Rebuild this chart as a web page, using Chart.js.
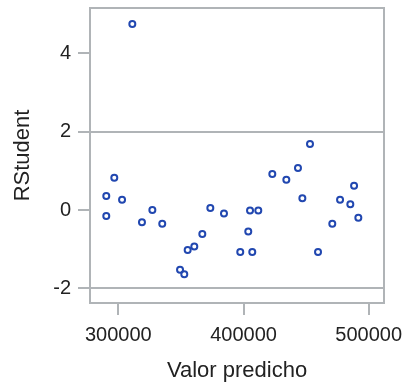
<html lang="en">
<head>
    <meta charset="UTF-8">
    <title>RStudent</title>
    <style>
        body { margin: 0; background: #fff; }
    </style>
</head>
<body>
    <canvas id="residChart" width="405" height="385"></canvas>

    <script src="https://cdn.jsdelivr.net/npm/chart.js@4.4.1/dist/chart.umd.min.js"></script>
    <script>
        // predicted value vs studentized residual
        const predicho = [311200, 453100, 296800, 290400, 303000, 290400, 327200, 318900, 335100,
            373500, 384400, 367100, 360700, 355400, 349300, 352700, 405200, 411800, 403800,
            397400, 407000, 423000, 434200, 443500, 447000, 459500, 470900, 477100, 485300,
            488300, 491700]
        const rstudent = [4.74, 1.68, 0.82, 0.36, 0.26, -0.15, 0.0, -0.31, -0.35,
            0.05, -0.09, -0.61, -0.93, -1.02, -1.52, -1.64, -0.01, -0.01, -0.55,
            -1.07, -1.07, 0.92, 0.77, 1.07, 0.30, -1.07, -0.35, 0.26, 0.15,
            0.62, -0.20]
        const xTicks = [300000, 400000, 500000]
        const yTicks = [-2, 0, 2, 4]
        const refLines = [-2, 2]

        const gray = '#b0b4b7'
        const textColor = '#222'

        // box round the plot area
        const frame = {
            id: 'frame',
            beforeDatasetsDraw(chart) {
                const { ctx, chartArea: a } = chart
                ctx.save()
                ctx.strokeStyle = gray
                ctx.lineWidth = 2
                ctx.strokeRect(a.left, a.top, a.right - a.left, a.bottom - a.top)
                ctx.restore()
            }
        }

        const points = predicho.map((x, i) => ({ x: x, y: rstudent[i] }))

        const ctx = document.getElementById('residChart').getContext('2d')
        const myChart = new Chart(ctx, {
            type: 'scatter',
            data: {
                datasets: [{
                    data: points,
                    pointRadius: 3,
                    pointBorderWidth: 2,
                    pointBorderColor: '#2147b0',
                    pointBackgroundColor: 'rgba(0,0,0,0)'
                }]
            },
            options: {
                responsive: false,
                animation: false,
                layout: { padding: { top: 8, right: 21, left: 0, bottom: 0 } },
                plugins: { legend: { display: false }, tooltip: { enabled: false } },
                scales: {
                    x: {
                        type: 'linear',
                        min: 277400,
                        max: 512200,
                        afterBuildTicks: s => { s.ticks = xTicks.map(v => ({ value: v })) },
                        afterFit: s => { s.height = 82; s.paddingLeft = 0; s.paddingRight = 0 },
                        border: { display: false },
                        grid: {
                            drawOnChartArea: false,
                            tickLength: 12,
                            tickColor: gray,
                            lineWidth: 2
                        },
                        ticks: {
                            padding: 8,
                            maxRotation: 0,
                            color: textColor,
                            font: { family: 'Liberation Sans, Arial', size: 20 },
                            callback: v => String(v)
                        },
                        title: {
                            display: true,
                            text: 'Valor predicho',
                            color: textColor,
                            padding: { top: 0, bottom: 1 },
                            font: { family: 'Liberation Sans, Arial', size: 22 }
                        }
                    },
                    y: {
                        min: -2.37,
                        max: 5.15,
                        afterBuildTicks: s => { s.ticks = yTicks.map(v => ({ value: v })) },
                        afterFit: s => { s.width = 90; s.paddingTop = 0; s.paddingBottom = 0 },
                        border: { display: false },
                        grid: {
                            color: c => refLines.includes(c.tick.value) ? gray : 'rgba(0,0,0,0)',
                            tickColor: gray,
                            tickLength: 12,
                            lineWidth: 2
                        },
                        ticks: {
                            padding: 7,
                            color: textColor,
                            font: { family: 'Liberation Sans, Arial', size: 20 }
                        },
                        title: {
                            display: true,
                            text: 'RStudent',
                            color: textColor,
                            padding: { top: 10, bottom: 0 },
                            font: { family: 'Liberation Sans, Arial', size: 22 }
                        }
                    }
                }
            },
            plugins: [frame]
        })
    </script>
</body>
</html>
